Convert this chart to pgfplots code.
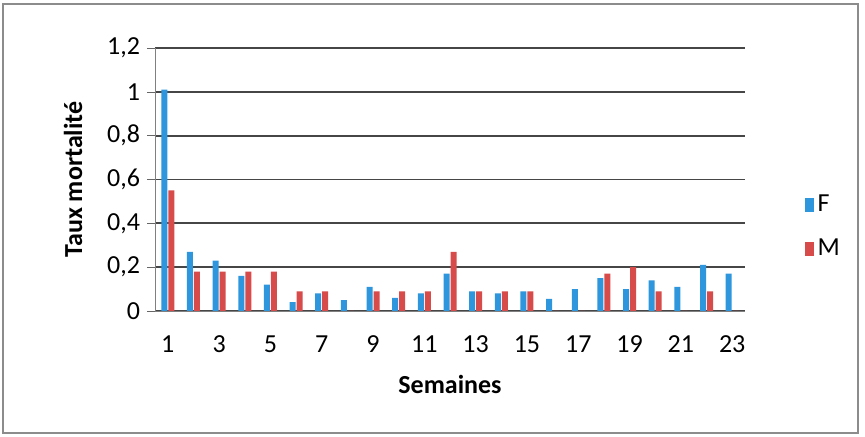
\documentclass[border=0pt]{standalone}
\usepackage{pgfplots}
\pgfplotsset{compat=1.18}
\usepackage{fontspec}
\setmainfont{Carlito}
\definecolor{barF}{RGB}{45,150,220}
\definecolor{barM}{RGB}{215,75,75}
\definecolor{gridc}{RGB}{70,70,70}

\begin{document}
\begin{tikzpicture}
\useasboundingbox (0,0) rectangle (432.5pt,218.5pt);
\draw[black!45, line width=0.6pt] (1.5pt,2pt) rectangle (429pt,216.5pt);

\begin{axis}[
	at={(77.5pt,63pt)},
	anchor=south west,
	scale only axis,
	width=295pt,
	height=131.5pt,
	ybar,
	bar width=3pt,
	ymin=0, ymax=1.2,
	xmin=0.5, xmax=23.5,
	xtick={1,3,...,23},
	ytick={0,0.2,...,1.2},
	axis x line*=bottom,
	axis y line*=left,
	axis line style={black!50, -},
	x tick style={draw=none},
	y tick style={black!60},
	tick align=outside,
	major tick length=4pt,
	ymajorgrids,
	grid style={gridc, line width=0.9pt},
	/pgf/number format/use comma,
	/pgf/number format/assume math mode=true,
	tick label style={font=\fontsize{13}{15}\selectfont},
	xticklabel style={yshift=-5pt},
	xlabel={Semaines},
	ylabel={Taux mortalité},
	every axis x label/.style={at={(axis description cs:0.5,-0.28)}, anchor=center,
		font=\fontsize{13}{15}\selectfont\bfseries},
	every axis y label/.style={at={(axis description cs:-0.139,0.5)}, rotate=90, anchor=center,
		font=\fontsize{13}{15}\selectfont\bfseries},
	legend style={at={(1.09,0.32)}, anchor=west, draw=none, fill=none,
		font=\fontsize{13}{15}\selectfont, row sep=8pt},
	legend image code/.code={\fill[#1] (0pt,-3.5pt) rectangle (4.5pt,3.5pt);},
	legend cell align=left,
	]

\addplot[draw=none, fill=barF, bar shift=-1.75pt] coordinates {
(1,1.01) (2,0.27) (3,0.23) (4,0.16) (5,0.12) (6,0.04) (7,0.08) (8,0.05)
(9,0.11) (10,0.06) (11,0.08) (12,0.17) (13,0.09) (14,0.08) (15,0.09)
(16,0.055) (17,0.10) (18,0.15) (19,0.10) (20,0.14) (21,0.11) (22,0.21) (23,0.17)
};
\addlegendentry{F}

\addplot[draw=none, fill=barM, bar shift=1.75pt] coordinates {
(1,0.55) (2,0.18) (3,0.18) (4,0.18) (5,0.18) (6,0.09) (7,0.09) (8,0)
(9,0.09) (10,0.09) (11,0.09) (12,0.27) (13,0.09) (14,0.09) (15,0.09)
(16,0) (17,0) (18,0.17) (19,0.20) (20,0.09) (21,0) (22,0.09) (23,0)
};
\addlegendentry{M}

\end{axis}
\end{tikzpicture}
\end{document}
